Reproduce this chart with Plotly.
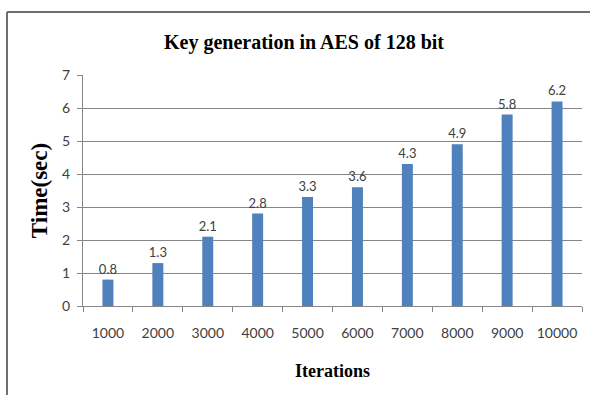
import plotly.graph_objects as go

# Iterations vs. key generation time for AES-128
iterations = ["1000", "2000", "3000", "4000", "5000", "6000", "7000", "8000", "9000", "10000"]
time_sec = [0.8, 1.3, 2.1, 2.8, 3.3, 3.6, 4.3, 4.9, 5.8, 6.2]
y_ticks = [0, 1, 2, 3, 4, 5, 6, 7]

W, H = 595, 396
L, R, T, B = 83, 13, 75, 90
PW, PH = W - L - R, H - T - B
label_font = dict(family="Lato, 'Open Sans', sans-serif", size=14, color="#404040")
value_font = dict(family="Lato, 'Open Sans', sans-serif", size=13, color="#404040")
serif_bold = "'Liberation Serif', 'Times New Roman', serif"


def px_x(p):
    return (p - L) / PW


def px_y(p):
    return (H - B - p) / PH


fig = go.Figure(
    go.Bar(
        x=iterations,
        y=time_sec,
        width=0.22,
        marker=dict(color="#4F81BD", line=dict(width=0)),
        text=[str(v) for v in time_sec],
        textposition="outside",
        textfont=value_font,
        constraintext="none",
        cliponaxis=False,
    )
)

frame = dict(color="#6e6e6e", width=2)
fig.update_layout(
    width=W,
    height=H,
    margin=dict(l=L, r=R, t=T, b=B),
    paper_bgcolor="white",
    plot_bgcolor="white",
    showlegend=False,
    title=dict(
        text="<b>Key generation in AES of 128 bit</b>",
        x=304 / W,
        xanchor="center",
        y=1 - 42 / H,
        yanchor="middle",
        font=dict(family=serif_bold, size=20, color="black"),
    ),
    xaxis=dict(
        type="category",
        showgrid=False,
        showline=True,
        linecolor="#868686",
        linewidth=1,
        ticks="outside",
        tickson="boundaries",
        ticklen=5,
        tickcolor="#868686",
        tickfont=label_font,
        ticklabelstandoff=14,
        title=dict(
            text="<b>Iterations</b>",
            font=dict(family=serif_bold, size=18, color="black"),
            standoff=24,
        ),
    ),
    yaxis=dict(
        range=[0, 7],
        tickvals=y_ticks,
        showgrid=True,
        gridcolor="#868686",
        gridwidth=1,
        zeroline=False,
        showline=True,
        linecolor="#868686",
        linewidth=1,
        ticks="outside",
        ticklen=5,
        tickcolor="#868686",
        tickfont=label_font,
        ticklabelstandoff=4,
        title=dict(
            text="<b>Time(sec)</b>",
            font=dict(family=serif_bold, size=23, color="black"),
            standoff=8,
        ),
    ),
    shapes=[
        # chart frame: left edge
        dict(type="line", xref="paper", yref="paper", layer="above",
             x0=px_x(7), x1=px_x(7), y0=px_y(H - 1), y1=px_y(12), line=frame),
        # chart frame: top edge
        dict(type="line", xref="paper", yref="paper", layer="above",
             x0=px_x(7), x1=px_x(590), y0=px_y(12), y1=px_y(12), line=frame),
    ],
)

fig.write_html("out.html")
